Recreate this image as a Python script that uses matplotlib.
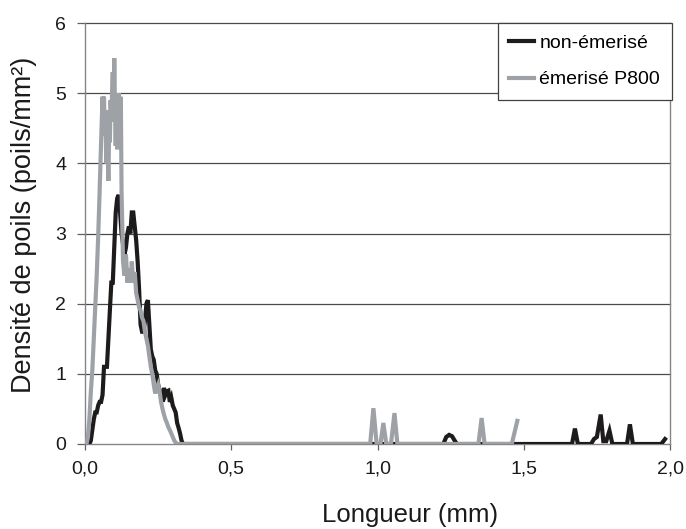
import matplotlib
matplotlib.use("Agg")
import matplotlib.pyplot as plt
from matplotlib.lines import Line2D

plt.rcParams['font.family'] = ['Liberation Sans', 'DejaVu Sans']

# ---- data: non-émerisé (black) ----
black_x = [0.000, 0.015, 0.020, 0.025, 0.030, 0.035, 0.040, 0.045, 0.050, 0.055,
           0.060, 0.065, 0.070, 0.075, 0.080, 0.085, 0.090, 0.095, 0.100, 0.105,
           0.110, 0.115, 0.120, 0.125, 0.130, 0.135, 0.140, 0.145, 0.150, 0.155,
           0.160, 0.165, 0.170, 0.175, 0.180, 0.185, 0.190, 0.195, 0.200, 0.205,
           0.210, 0.215, 0.220, 0.225, 0.230, 0.235, 0.240, 0.245, 0.250, 0.255,
           0.260, 0.265, 0.270, 0.275, 0.280, 0.285, 0.290, 0.295, 0.300, 0.305,
           0.310, 0.315, 0.320, 0.325, 0.330, 0.335,
           1.225, 1.235, 1.245, 1.255, 1.265, 1.272,
           1.665, 1.675, 1.685,
           1.730, 1.740, 1.750, 1.763, 1.772, 1.782, 1.793, 1.803,
           1.853, 1.863, 1.873,
           1.970, 1.983]
black_y = [0.00, 0.00, 0.05, 0.20, 0.35, 0.45, 0.45, 0.55, 0.60, 0.60,
           0.70, 1.10, 1.10, 1.10, 1.50, 1.90, 2.30, 2.30, 2.80, 3.30,
           3.50, 3.55, 3.30, 3.00, 2.85, 2.70, 2.80, 3.00, 3.10, 3.00,
           3.30, 3.30, 3.10, 2.90, 2.60, 2.20, 1.70, 1.60, 1.60, 1.75,
           2.00, 2.05, 1.70, 1.35, 1.25, 1.20, 1.05, 1.00, 0.85, 0.76,
           0.70, 0.60, 0.80, 0.70, 0.75, 0.76, 0.60, 0.66, 0.55, 0.50,
           0.45, 0.30, 0.23, 0.15, 0.05, 0.00,
           0.00, 0.10, 0.13, 0.11, 0.04, 0.00,
           0.00, 0.22, 0.00,
           0.00, 0.07, 0.10, 0.42, 0.04, 0.04, 0.19, 0.00,
           0.00, 0.28, 0.00,
           0.00, 0.07]

# ---- data: émerisé P800 (grey) ----
grey_x = [0.000, 0.005, 0.010, 0.015, 0.020, 0.025, 0.030, 0.035, 0.040, 0.045,
          0.050, 0.055, 0.060, 0.0625, 0.065, 0.0675, 0.070, 0.0725, 0.075, 0.0775,
          0.080, 0.0825, 0.085, 0.0875, 0.090, 0.0925, 0.095, 0.0975, 0.100, 0.1025,
          0.105, 0.1075, 0.110, 0.1125, 0.115, 0.1175, 0.120, 0.1225, 0.125,
          0.130, 0.135, 0.140, 0.145,
          0.150, 0.155, 0.160, 0.165, 0.170, 0.175, 0.180, 0.185, 0.190, 0.195,
          0.200, 0.205, 0.210, 0.215, 0.220, 0.225, 0.230, 0.235, 0.240, 0.245,
          0.250, 0.255, 0.260, 0.265, 0.270, 0.275, 0.280, 0.285, 0.290, 0.295,
          0.300, 0.305, 0.310, 0.315,
          0.975, 0.986, 0.997, 1.010, 1.020, 1.030, 1.046, 1.058, 1.068,
          1.345, 1.356, 1.366,
          1.459, 1.478]
grey_y = [0.00, 0.00, 0.10, 0.35, 0.75, 1.05, 1.50, 1.95, 2.40, 2.95,
          3.60, 4.30, 4.95, 4.60, 4.95, 4.40, 4.75, 4.00, 4.75, 4.20,
          3.75, 4.50, 4.30, 4.90, 4.60, 5.00, 5.30, 4.60, 5.50, 4.80,
          4.25, 4.90, 4.20, 4.80, 5.00, 4.50, 4.90, 4.95, 3.60,
          2.60, 2.40, 2.70, 2.30,
          2.50, 2.30, 2.60, 2.30, 2.45, 2.15, 2.05, 1.95, 1.90, 1.80,
          1.75, 1.60, 1.50, 1.40, 1.25, 1.10, 1.00, 0.85, 0.72, 0.80,
          0.85, 0.75, 0.60, 0.50, 0.42, 0.35, 0.30, 0.24, 0.20, 0.15,
          0.10, 0.05, 0.02, 0.00,
          0.00, 0.51, 0.00, 0.00, 0.30, 0.00, 0.00, 0.44, 0.00,
          0.00, 0.37, 0.00,
          0.00, 0.33]

x_ticks = [0.0, 0.5, 1.0, 1.5, 2.0]
x_tick_labels = ['0,0', '0,5', '1,0', '1,5', '2,0']
y_ticks = [0, 1, 2, 3, 4, 5, 6]
y_tick_labels = ['0', '1', '2', '3', '4', '5', '6']
series_labels = ['non-émerisé', 'émerisé P800']

W, H = 686, 529
fig = plt.figure(figsize=(W / 100, H / 100), dpi=100)
ax = fig.add_axes([85 / W, 1 - 444 / H, (670 - 85) / W, (444 - 23) / H])

black_col = '#1e1b1c'
grey_col = '#9ea2a7'
ax.plot(black_x, black_y, color=black_col, lw=3.0, solid_joinstyle='miter', zorder=3)
ax.plot(grey_x, grey_y, color=grey_col, lw=3.0, solid_joinstyle='miter', zorder=4)

ax.set_xlim(0, 2.0)
ax.set_ylim(0, 6)
ax.set_xticks(x_ticks)
ax.set_xticklabels(x_tick_labels)
ax.set_yticks(y_ticks)
ax.set_yticklabels(y_tick_labels)

for y in y_ticks[1:]:
    ax.axhline(y, color='#4a4a4a', lw=0.9, zorder=1, clip_on=False)

for s in ['left', 'bottom', 'right']:
    ax.spines[s].set_color('#858585')
    ax.spines[s].set_linewidth(1.0)
ax.spines['top'].set_visible(False)

ax.tick_params(axis='y', direction='out', length=5.5, width=0.9, color='#606060',
               labelsize=14, pad=8, labelcolor='#1a1a1a')
ax.tick_params(axis='x', direction='out', length=4, width=0.9, color='#606060',
               labelsize=14, pad=8, labelcolor='#1a1a1a')

fig.text(410 / W, 1 - 515 / H, 'Longueur (mm)', ha='center', va='center',
         fontsize=18.5, color='#1a1a1a')
fig.text(24 / W, 1 - 225 / H, 'Densité de poils (poils/mm²)', ha='center', va='center',
         rotation=90, fontsize=19.5, color='#1a1a1a')

handles = [Line2D([], [], color=black_col, lw=3.0),
           Line2D([], [], color=grey_col, lw=3.0)]
leg = ax.legend(handles, series_labels, loc='upper right', bbox_to_anchor=(1.003, 1.0),
                borderaxespad=0, fontsize=14, handlelength=1.3, handletextpad=0.25,
                labelspacing=0.95, borderpad=0.6, fancybox=False, framealpha=1,
                edgecolor='#404040')
leg.get_frame().set_linewidth(0.9)
leg.set_zorder(6)

fig.savefig('out.png', dpi=100)
